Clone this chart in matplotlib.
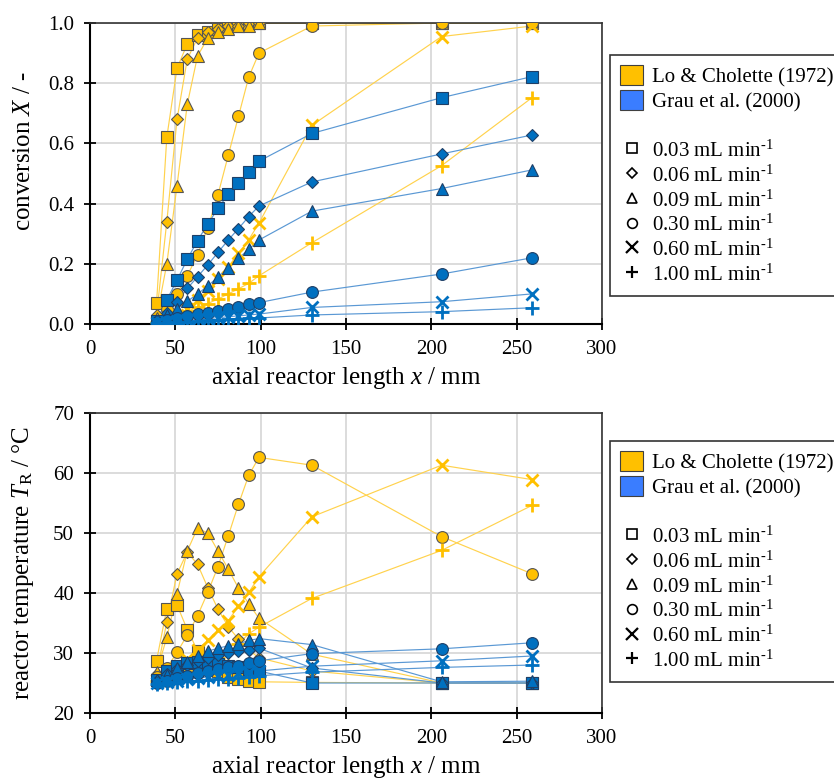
import numpy as np
import matplotlib.pyplot as plt
from matplotlib.lines import Line2D
from matplotlib.patches import Patch
from matplotlib.ticker import FormatStrFormatter, MultipleLocator

plt.rcParams['font.family'] = 'Liberation Serif'
plt.rcParams['mathtext.fontset'] = 'custom'
plt.rcParams['mathtext.rm'] = 'Liberation Serif'
plt.rcParams['mathtext.it'] = 'Liberation Serif:italic'

# axial positions of the thermocouples / sampling ports (mm)
x_mm = [39, 45, 51, 57, 63, 69, 75, 81, 87, 93, 99, 130, 206, 259]

flow_rates = ['0.03', '0.06', '0.09', '0.30', '0.60', '1.00']
markers = ['s', 'D', '^', 'o', 'x', '+']
msizes = [8.5, 6.5, 9, 8.5, 9, 10]

# conversion, Lo & Cholette (1972)
lc_X_003 = [0.07, 0.62, 0.85, 0.93, 0.96, 0.97, 0.98, 0.99, 0.99, 1.0, 1.0, 1.0, 1.0, 1.0]
lc_X_006 = [0.03, 0.34, 0.68, 0.88, 0.95, 0.97, 0.98, 0.99, 0.99, 1.0, 1.0, 1.0, 1.0, 1.0]
lc_X_009 = [0.02, 0.20, 0.46, 0.73, 0.89, 0.95, 0.97, 0.98, 0.99, 0.99, 1.0, 1.0, 1.0, 1.0]
lc_X_030 = [0.01, 0.05, 0.10, 0.16, 0.23, 0.32, 0.43, 0.56, 0.69, 0.82, 0.90, 0.99, 1.0, 1.0]
lc_X_060 = [0.005, 0.015, 0.03, 0.05, 0.08, 0.11, 0.15, 0.19, 0.235, 0.28, 0.335, 0.66, 0.955, 0.99]
lc_X_100 = [0.008, 0.018, 0.03, 0.043, 0.055, 0.068, 0.083, 0.10, 0.117, 0.135, 0.16, 0.27, 0.526, 0.752]

# conversion, Grau et al. (2000)
gr_X_003 = [0.01, 0.08, 0.146, 0.215, 0.277, 0.332, 0.384, 0.431, 0.469, 0.506, 0.541, 0.633, 0.752, 0.822]
gr_X_006 = [0.01, 0.036, 0.074, 0.118, 0.157, 0.196, 0.238, 0.279, 0.317, 0.357, 0.392, 0.472, 0.565, 0.628]
gr_X_009 = [0.008, 0.03, 0.05, 0.075, 0.10, 0.126, 0.157, 0.187, 0.218, 0.248, 0.279, 0.375, 0.45, 0.512]
gr_X_030 = [0.008, 0.014, 0.02, 0.026, 0.032, 0.038, 0.043, 0.05, 0.058, 0.065, 0.071, 0.106, 0.166, 0.22]
gr_X_060 = [0.003, 0.006, 0.009, 0.012, 0.015, 0.018, 0.021, 0.024, 0.027, 0.03, 0.033, 0.055, 0.074, 0.10]
gr_X_100 = [0.002, 0.004, 0.006, 0.008, 0.01, 0.012, 0.014, 0.016, 0.018, 0.019, 0.02, 0.03, 0.041, 0.054]

# reactor temperature, Lo & Cholette (1972)
lc_T_003 = [28.7, 37.4, 38.0, 33.9, 30.4, 28.5, 27.0, 26.0, 25.6, 25.4, 25.2, 25.1, 25.0, 25.0]
lc_T_006 = [26.5, 35.2, 43.2, 46.8, 44.8, 40.9, 37.3, 34.4, 32.3, 30.5, 29.2, 27.0, 25.0, 25.0]
lc_T_009 = [26.8, 32.6, 39.9, 47.0, 50.8, 50.0, 47.0, 44.0, 40.8, 38.2, 35.8, 29.8, 25.0, 25.0]
lc_T_030 = [26.0, 27.5, 30.1, 33.0, 36.2, 40.1, 44.4, 49.5, 54.8, 59.6, 62.6, 61.3, 49.4, 43.2]
lc_T_060 = [25.5, 26.5, 27.5, 29.0, 30.5, 32.1, 33.8, 35.4, 37.8, 40.1, 42.7, 52.7, 61.3, 58.9]
lc_T_100 = [25.3, 25.8, 26.3, 27.0, 27.6, 28.3, 29.2, 30.2, 31.5, 33.2, 34.3, 39.1, 47.1, 54.6]

# reactor temperature, Grau et al. (2000)
gr_T_003 = [25.5, 27.0, 27.8, 28.3, 28.5, 28.5, 28.2, 27.9, 27.6, 27.3, 27.0, 25.0, 25.0, 25.0]
gr_T_006 = [25.3, 26.5, 27.3, 28.0, 28.6, 29.2, 29.6, 30.0, 30.3, 30.5, 30.8, 27.5, 25.0, 25.0]
gr_T_009 = [25.5, 26.3, 27.5, 28.5, 29.5, 30.3, 30.8, 31.2, 31.5, 32.1, 32.4, 31.4, 25.2, 25.3]
gr_T_030 = [25.0, 25.4, 25.8, 26.2, 26.6, 27.0, 27.3, 27.6, 27.9, 28.3, 28.7, 29.9, 30.7, 31.7]
gr_T_060 = [25.0, 25.2, 25.4, 25.6, 25.8, 26.0, 26.2, 26.4, 26.6, 26.8, 27.0, 27.8, 28.7, 29.5]
gr_T_100 = [24.9, 25.0, 25.1, 25.3, 25.4, 25.5, 25.6, 25.7, 25.9, 26.0, 26.2, 26.8, 27.6, 28.0]

lc_X = [lc_X_003, lc_X_006, lc_X_009, lc_X_030, lc_X_060, lc_X_100]
gr_X = [gr_X_003, gr_X_006, gr_X_009, gr_X_030, gr_X_060, gr_X_100]
lc_T = [lc_T_003, lc_T_006, lc_T_009, lc_T_030, lc_T_060, lc_T_100]
gr_T = [gr_T_003, gr_T_006, gr_T_009, gr_T_030, gr_T_060, gr_T_100]

lc_color, lc_line, lc_edge = '#FFC000', '#FFD24D', '#555555'
gr_color, gr_line, gr_edge = '#0070C0', '#5A98D4', '#1F3F66'


def draw_series(ax, data, color, line_color, edge):
    for vals in data:
        ax.plot(x_mm, vals, color=line_color, lw=0.85, zorder=2)
    for vals, m, ms in zip(data, markers, msizes):
        if m in ('x', '+'):
            ax.plot(x_mm, vals, ls='none', marker=m, ms=ms, mew=2.0,
                    color=color, zorder=3)
        else:
            ax.plot(x_mm, vals, ls='none', marker=m, ms=ms, mew=0.8,
                    mfc=color, mec=edge, zorder=3)


def style_axes(ax):
    ax.set_xlim(0, 300)
    ax.xaxis.set_major_locator(MultipleLocator(50))
    ax.grid(color='#D9D9D9', lw=1.3)
    ax.set_axisbelow(True)
    for side in ('left', 'bottom'):
        ax.spines[side].set_linewidth(1.5)
        ax.spines[side].set_color('black')
    for side in ('top', 'right'):
        ax.spines[side].set_linewidth(1.2)
        ax.spines[side].set_color('#333333')
    ax.tick_params(direction='inout', length=9, width=1.3, labelsize=15,
                   pad=7, top=False, right=False)
    ax.set_xlabel('axial reactor length $x$ / mm', fontsize=18, labelpad=4)


fig = plt.figure(figsize=(8.34, 7.82), dpi=100)
ax1 = fig.add_axes([90 / 834, 1 - 324 / 782, 512 / 834, 301 / 782])
ax2 = fig.add_axes([90 / 834, 1 - 713 / 782, 512 / 834, 300 / 782])

draw_series(ax1, lc_X, lc_color, lc_line, lc_edge)
draw_series(ax1, gr_X, gr_color, gr_line, gr_edge)
style_axes(ax1)
ax1.set_ylim(0, 1.0)
ax1.yaxis.set_major_locator(MultipleLocator(0.2))
ax1.yaxis.set_major_formatter(FormatStrFormatter('%.1f'))
ax1.set_ylabel('conversion $X$ / -', fontsize=18)
ax1.yaxis.set_label_coords(-0.108, 0.575)

draw_series(ax2, lc_T, lc_color, lc_line, lc_edge)
draw_series(ax2, gr_T, gr_color, gr_line, gr_edge)
style_axes(ax2)
ax2.set_ylim(20, 70)
ax2.yaxis.set_major_locator(MultipleLocator(10))
ax2.set_ylabel(r'reactor temperature $T_\mathrm{R}$ / °C', fontsize=18)
ax2.yaxis.set_label_coords(-0.105, 0.5)

# legend: data source by colour, flow rate by marker
handles = [Patch(facecolor=lc_color, edgecolor='#404040', lw=0.8),
           Patch(facecolor='#3A7DFF', edgecolor='#404040', lw=0.8),
           Line2D([], [], ls='none')]
labels = ['Lo & Cholette (1972)', 'Grau et al. (2000)', ' ']
for fr, m in zip(flow_rates, markers):
    if m in ('x', '+'):
        h = Line2D([], [], ls='none', marker=m, ms=8, mew=1.6, color='black')
    else:
        h = Line2D([], [], ls='none', marker=m, ms=7 if m != 'D' else 5.5,
                   mew=1.2, mfc='white', mec='black')
    handles.append(h)
    labels.append(fr + r' mL min$^{\text{-1}}$')

for top_px in (55, 441):
    leg = fig.legend(handles, labels, loc='upper left', mode='expand',
                     bbox_to_anchor=(610 / 834, 1 - top_px / 782, 0.3, 0),
                     frameon=True, fancybox=False, edgecolor='black',
                     fontsize=15, handlelength=1.1, handleheight=1.1,
                     labelspacing=0.13, handletextpad=0.4, borderpad=0.5,
                     borderaxespad=0)
    leg.get_frame().set_linewidth(1.2)

fig.savefig('out.png', dpi=100)
